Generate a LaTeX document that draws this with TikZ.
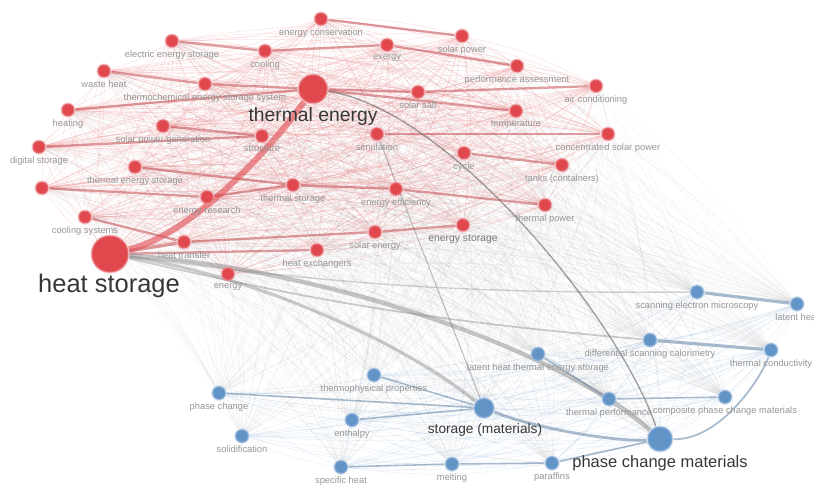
\documentclass[tikz,border=0pt]{standalone}
\usepackage{fontspec}
\setmainfont{Liberation Sans}
\usetikzlibrary{backgrounds}
\definecolor{vred}{RGB}{224,72,78}
\definecolor{vblue}{RGB}{98,148,200}
\definecolor{vtext}{RGB}{150,150,150}
\definecolor{vdark}{RGB}{55,55,55}

\tikzset{
  rdot/.style={circle,fill=vred,draw=vred!60,line width=1.2pt,draw opacity=0.45,inner sep=0,minimum size=0.26cm},
  bdot/.style={circle,fill=vblue,draw=vblue!60,line width=1.2pt,draw opacity=0.45,inner sep=0,minimum size=0.27cm},
  lbl/.style={text=vtext,font=\fontsize{5.3}{6}\selectfont,inner sep=0,anchor=north},
  biglbl/.style={text=vdark,anchor=base,inner sep=0},
  redmesh/.style={draw=vred!80,line width=0.3pt,opacity=0.2},
  bluemesh/.style={draw=vblue,line width=0.25pt,opacity=0.16},
  crossmesh/.style={draw=gray,line width=0.25pt,opacity=0.09},
  redlink/.style={draw=vred!85!black,line width=1.3pt,opacity=0.5},
  graylink/.style={draw=gray,opacity=0.5},
  bluelink/.style={draw=vblue!60!gray,line width=1.4pt,opacity=0.6}
}

\def\rednodes{hs,te,ec,ees,cool,exg,sp,wh,tces,pa,ac,heat,spg,ds,hp,sh,salt,temp,csp,cyc,tanks,tes,n23,er,ts,ee,tp,cs,es,ht,se,hx,en}
\def\bluenodes{sem,lh,dsc,tc,lhtes,tperf,cpcm,sm,pcm,par,melt,sph,enth,tpp,pc,sol}

\begin{document}
\begin{tikzpicture}[x=0.02cm,y=-0.02cm]
\useasboundingbox (0,0) rectangle (814,486);

%red cluster:
\node[rdot,minimum size=0.74cm] (hs) at (110,254) {};
\node[biglbl,font=\fontsize{14.5}{16}\selectfont] (hs-t) at (109,292) {heat storage};
\node[rdot,minimum size=0.58cm] (te) at (313,89) {};
\node[biglbl,font=\fontsize{11}{12}\selectfont] (te-t) at (313,122) {thermal energy};
\foreach \n/\x/\y/\t in {ec/321/19/energy conservation, ees/172/41/electric energy storage,
  cool/265/51/cooling, exg/387/45/exergy, sp/462/36/solar power, wh/104/71/waste heat,
  tces/205/84/thermochemical energy storage system, pa/517/66/performance assessment,
  ac/596/86/air conditioning, heat/68/110/heating, spg/163/126/solar power generation,
  ds/39/147/digital storage, hp/262/136/structure, sh/377/134/simulation, salt/418/92/solar salt,
  temp/516/111/temperature, csp/608/134/concentrated solar power, cyc/464/153/cycle,
  tanks/562/165/tanks (containers), tes/135/167/thermal energy storage, n23/42/188/,
  er/207/197/energy research, ts/293/185/thermal storage, ee/396/189/energy efficiency,
  tp/545/205/thermal power, cs/85/217/cooling systems, ht/184/242/heat transfer,
  se/375/232/solar energy, hx/317/250/heat exchangers, en/228/274/energy}{
  \node[rdot] (\n) at (\x,\y) {};
  \node[lbl] (\n-t) at ([yshift=-1pt]\n.south) {\t};
}
\node[rdot] (es) at (463,225) {};
\node[lbl,font=\fontsize{5.9}{7}\selectfont,text=vtext!80!black] (es-t) at ([yshift=-1pt]es.south) {energy storage};

%blue cluster:
\node[bdot,minimum size=0.4cm] (sm) at (484,408) {};
\node[biglbl,font=\fontsize{7.8}{9}\selectfont] (sm-t) at (485,433) {storage (materials)};
\node[bdot,minimum size=0.5cm] (pcm) at (660,439) {};
\node[biglbl,font=\fontsize{9.4}{11}\selectfont] (pcm-t) at (660,467) {phase change materials};
\foreach \n/\x/\y/\t in {sem/697/292/scanning electron microscopy, lh/797/304/latent heat,
  dsc/650/340/differential scanning calorimetry, tc/771/350/thermal conductivity,
  lhtes/538/354/latent heat thermal energy storage, tperf/609/399/thermal performance,
  cpcm/725/397/composite phase change materials, par/552/463/paraffins, melt/452/464/melting,
  sph/341/467/specific heat, enth/352/420/enthalpy, tpp/374/375/thermophysical properties,
  pc/219/393/phase change, sol/242/436/solidification}{
  \node[bdot] (\n) at (\x,\y) {};
  \node[lbl] (\n-t) at ([yshift=-1pt]\n.south) {\t};
}

\begin{pgfonlayer}{background}
%faint links
\foreach \a [count=\i] in \rednodes {
  \foreach \b [count=\j] in \rednodes {
    \ifnum\j>\i \draw[redmesh] (\a) to[bend left=8] (\b); \fi
  }
}
\foreach \a [count=\i] in \bluenodes {
  \foreach \b [count=\j] in \bluenodes {
    \ifnum\j>\i \draw[bluemesh] (\a) to[bend left=8] (\b); \fi
  }
}
\foreach \a in \rednodes {
  \foreach \b in \bluenodes {
    \draw[crossmesh] (\a) to[bend left=8] (\b);
  }
}

%strong links
\foreach \a/\b in {ees/cool, cool/exg, exg/pa, wh/tces, tces/te, heat/te, ds/hp, spg/hp,
  tes/ts, n23/er, er/ts, cs/ht, ht/se, ts/ee, se/es, ee/tp, te/salt, salt/ac, te/temp,
  sh/csp, cyc/tanks, hs/hx, ec/sp}
  \draw[redlink] (\a) -- (\b);
\draw[redlink,line width=2pt] (hs) -- (ht);
\draw[draw=vred,line width=3.5pt,opacity=0.6] (hs) .. controls (190,235) and (270,150) .. (te);

\draw[graylink,line width=2.5pt,opacity=0.45] (hs) .. controls (330,270) and (560,350) .. (pcm);
\draw[graylink,line width=1.8pt,opacity=0.4] (hs) .. controls (250,275) and (400,340) .. (sm);
\draw[graylink,line width=0.8pt,draw=gray!80!black,opacity=0.6] (te) .. controls (450,110) and (620,320) .. (pcm);
\draw[graylink,line width=0.6pt] (sh) -- (sm);
\draw[graylink,line width=0.8pt,opacity=0.35] (hs) to[bend right=4] (sem);
\draw[graylink,line width=1pt,opacity=0.4] (hs) to[bend right=4] (dsc);

\draw[bluelink,line width=1.6pt] (sm) .. controls (540,430) and (620,442) .. (pcm);
\draw[bluelink,line width=1pt] (pcm) .. controls (720,440) and (760,380) .. (tc);
\foreach \a/\b in {sem/lh, dsc/tc}
  \draw[bluelink,line width=1.8pt] (\a) -- (\b);
\foreach \a/\b in {tperf/cpcm, pc/sm, tpp/sm, enth/sm, sph/melt, melt/par, par/pcm, lhtes/tperf}
  \draw[bluelink,line width=0.9pt] (\a) -- (\b);
\end{pgfonlayer}

\end{tikzpicture}
\end{document}
